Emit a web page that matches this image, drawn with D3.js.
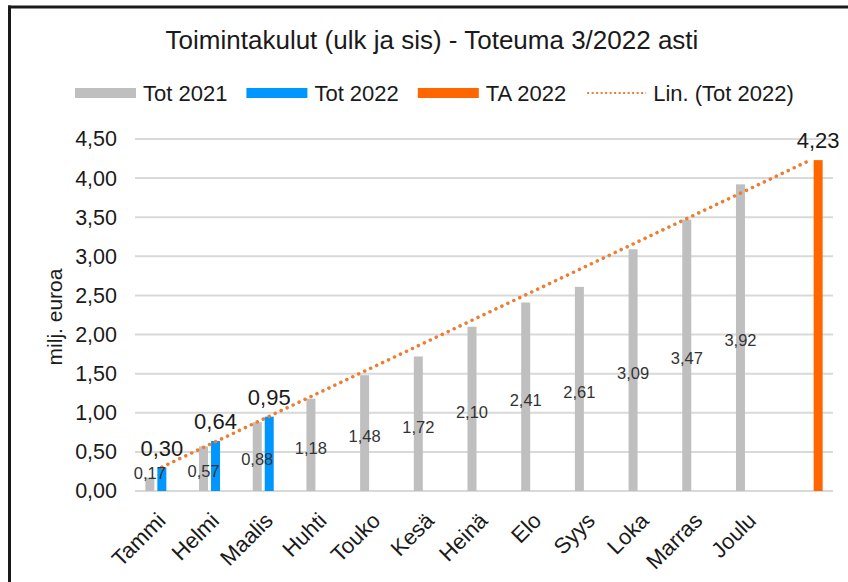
<!DOCTYPE html>
<html>
<head>
<meta charset="utf-8">
<script src="https://cdn.jsdelivr.net/npm/d3@7"></script>
<style>
  body { margin: 0; background: #fff; }
  svg { display: block; font-family: "Liberation Sans", Arial, sans-serif; }
</style>
</head>
<body>
<div class="wrapper"></div>
<script>
var months = ["Tammi", "Helmi", "Maalis", "Huhti", "Touko", "Kesä", "Heinä", "Elo", "Syys", "Loka", "Marras", "Joulu", ""];
var tot2021 = [0.17, 0.57, 0.88, 1.18, 1.48, 1.72, 2.10, 2.41, 2.61, 3.09, 3.47, 3.92];
var tot2022 = [0.30, 0.64, 0.95];
var ta2022 = [null, null, null, null, null, null, null, null, null, null, null, null, 4.23];
var yTicks = [0, 0.5, 1, 1.5, 2, 2.5, 3, 3.5, 4, 4.5];

var keys = ["Tot 2021", "Tot 2022", "TA 2022"];
var colors = {"Tot 2021": "#bfbfbf", "Tot 2022": "#0096ff", "TA 2022": "#ff6600"};
var trendColor = "#ed7d31";

var width = 848, height = 582;
var svg = d3.select(".wrapper").append("svg")
    .attr("width", width)
    .attr("height", height);

var margin = {top: 139, right: 15, bottom: 91, left: 135};
var innerW = width - margin.left - margin.right;
var innerH = height - margin.top - margin.bottom;
var g = svg.append("g").attr("transform", "translate(" + margin.left + "," + margin.top + ")");

var fi = d3.formatLocale({decimal: ",", thousands: " ", grouping: [3], currency: ["", "€"]});
var fmt = fi.format(".2f");

// frame (only top and left edges visible)
svg.append("line").attr("x1", 8).attr("x2", width).attr("y1", 7).attr("y2", 7)
  .attr("stroke", "#1a1a1a").attr("stroke-width", 3);
svg.append("line").attr("x1", 9.5).attr("x2", 9.5).attr("y1", 5.5).attr("y2", height)
  .attr("stroke", "#1a1a1a").attr("stroke-width", 3);

svg.append("text")
  .attr("x", 432).attr("y", 49)
  .attr("text-anchor", "middle")
  .attr("font-size", 26)
  .attr("fill", "#1a1a1a")
  .text("Toimintakulut  (ulk ja sis) - Toteuma 3/2022 asti");

var x0 = d3.scaleBand().domain(d3.range(months.length)).range([0, innerW]).padding(0);
var x1 = d3.scaleBand().domain(keys).range([0, 33]).paddingInner(0.25);
var y = d3.scaleLinear().domain([0, 4.5]).range([innerH, 0]);

// grid
g.append("g").selectAll("line")
  .data(yTicks)
  .enter().append("line")
    .attr("x1", 0).attr("x2", innerW)
    .attr("y1", function(d) { return y(d); })
    .attr("y2", function(d) { return y(d); })
    .attr("stroke", "#d9d9d9")
    .attr("stroke-width", 2);

// y axis labels
var yAxis = g.append("g")
  .call(d3.axisLeft(y).tickValues(yTicks).tickFormat(fmt).tickSize(0).tickPadding(18));
yAxis.select(".domain").remove();
yAxis.selectAll("text").attr("font-size", 21.5).attr("fill", "#1a1a1a").attr("font-family", "Liberation Sans, Arial, sans-serif");

svg.append("text")
  .attr("transform", "translate(62,317) rotate(-90)")
  .attr("text-anchor", "middle")
  .attr("font-size", 21)
  .attr("fill", "#1a1a1a")
  .text("milj. euroa");

function groupX(i, key) {
  return x0(i) + x0.bandwidth() / 2 - 16.5 + x1(key);
}

var rows = [];
months.forEach(function(m, i) {
  if (tot2021[i] != null) rows.push({i: i, key: "Tot 2021", value: tot2021[i]});
  if (tot2022[i] != null) rows.push({i: i, key: "Tot 2022", value: tot2022[i]});
  if (ta2022[i] != null) rows.push({i: i, key: "TA 2022", value: ta2022[i]});
});

g.append("g").selectAll("rect")
  .data(rows)
  .enter().append("rect")
    .attr("x", function(d) { return groupX(d.i, d.key); })
    .attr("y", function(d) { return y(d.value); })
    .attr("width", x1.bandwidth())
    .attr("height", function(d) { return innerH - y(d.value); })
    .attr("fill", function(d) { return colors[d.key]; });

// linear trend of Tot 2022 (least squares), extended over all categories
var xs = tot2022.map(function(v, i) { return i + 1; });
var mx = d3.mean(xs), my = d3.mean(tot2022);
var slope = d3.sum(xs, function(xv, i) { return (xv - mx) * (tot2022[i] - my); }) /
            d3.sum(xs, function(xv) { return (xv - mx) * (xv - mx); });
var icpt = my - slope * mx;
var trend = [1, months.length].map(function(n) { return {i: n - 1, value: icpt + slope * n}; });

g.append("path")
  .datum(trend)
  .attr("fill", "none")
  .attr("stroke", trendColor)
  .attr("stroke-width", 3.5)
  .attr("stroke-linecap", "round")
  .attr("stroke-dasharray", "0.1,6.5")
  .attr("d", d3.line()
    .x(function(d) { return x0(d.i) + x0.bandwidth() / 2; })
    .y(function(d) { return y(d.value); }));

// labels
g.append("g").selectAll("text")
  .data(rows.filter(function(d) { return d.key == "Tot 2021"; }))
  .enter().append("text")
    .attr("x", function(d) { return groupX(d.i, d.key) + x1.bandwidth() / 2; })
    .attr("y", function(d) { return Math.min((y(d.value) + innerH) / 2 + 3, innerH - 18); })
    .attr("dy", "0.35em")
    .attr("text-anchor", "middle")
    .attr("font-size", 16.5)
    .attr("fill", "#333")
    .text(function(d) { return fmt(d.value); });

g.append("g").selectAll("text")
  .data(rows.filter(function(d) { return d.key != "Tot 2021"; }))
  .enter().append("text")
    .attr("x", function(d) { return groupX(d.i, d.key) + x1.bandwidth() / 2; })
    .attr("y", function(d) { return y(d.value) - 12; })
    .attr("text-anchor", "middle")
    .attr("font-size", 22)
    .attr("fill", "#1a1a1a")
    .text(function(d) { return fmt(d.value); });

// x labels
g.append("g").selectAll("text")
  .data(months)
  .enter().append("text")
    .attr("transform", function(d, i) {
      return "translate(" + (x0(i) + x0.bandwidth() / 2 + 5) + "," + (innerH + 31) + ") rotate(-45)";
    })
    .attr("text-anchor", "end")
    .attr("font-size", 22)
    .attr("fill", "#1a1a1a")
    .text(function(d) { return d; });

// legend
var legend = svg.append("g").attr("transform", "translate(75,93)");
var lx = 0;
keys.concat(["Lin. (Tot 2022)"]).forEach(function(k, i) {
  if (i < 3) {
    legend.append("rect").attr("x", lx).attr("y", -5).attr("width", 61).attr("height", 10).attr("fill", colors[k]);
  } else {
    legend.append("line").attr("x1", lx + 2).attr("x2", lx + 61).attr("y1", 0).attr("y2", 0)
      .attr("stroke", trendColor).attr("stroke-width", 2).attr("stroke-dasharray", "2,2.5");
  }
  var t = legend.append("text")
    .attr("x", lx + 68).attr("y", 8)
    .attr("font-size", 22)
    .attr("fill", "#1a1a1a")
    .text(k);
  lx += 68 + t.node().getComputedTextLength() + 19;
});
</script>
</body>
</html>
